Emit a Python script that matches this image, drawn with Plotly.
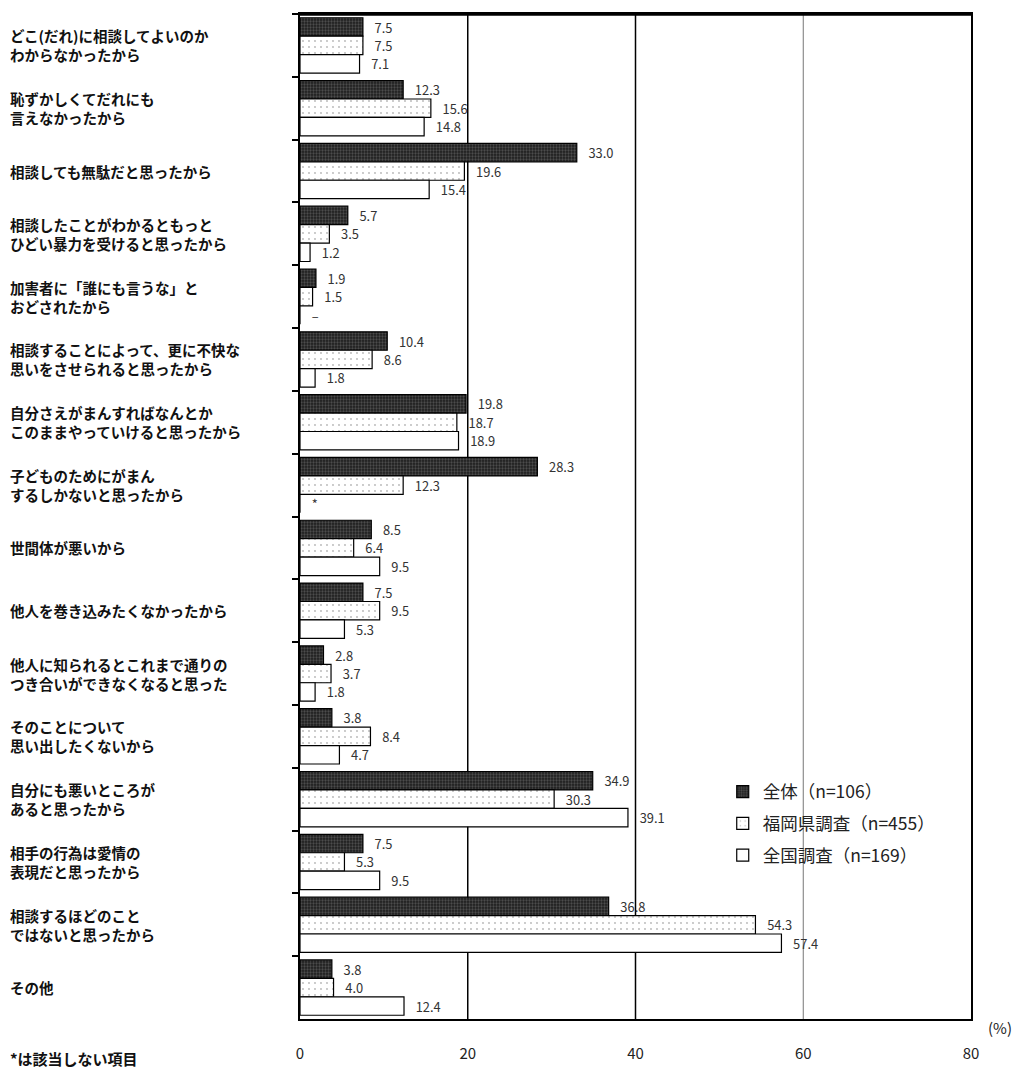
import plotly.graph_objects as go

# Reasons for not seeking help (%), three surveys
categories = [
    "どこ(だれ)に相談してよいのか<br>わからなかったから",
    "恥ずかしくてだれにも<br>言えなかったから",
    "相談しても無駄だと思ったから",
    "相談したことがわかるともっと<br>ひどい暴力を受けると思ったから",
    "加害者に「誰にも言うな」と<br>おどされたから",
    "相談することによって、更に不快な<br>思いをさせられると思ったから",
    "自分さえがまんすればなんとか<br>このままやっていけると思ったから",
    "子どものためにがまん<br>するしかないと思ったから",
    "世間体が悪いから",
    "他人を巻き込みたくなかったから",
    "他人に知られるとこれまで通りの<br>つき合いができなくなると思った",
    "そのことについて<br>思い出したくないから",
    "自分にも悪いところが<br>あると思ったから",
    "相手の行為は愛情の<br>表現だと思ったから",
    "相談するほどのこと<br>ではないと思ったから",
    "その他",
]

series_names = ["全体（n=106）", "福岡県調査（n=455）", "全国調査（n=169）"]

zentai = [7.5, 12.3, 33.0, 5.7, 1.9, 10.4, 19.8, 28.3, 8.5, 7.5, 2.8, 3.8, 34.9, 7.5, 36.8, 3.8]
fukuoka = [7.5, 15.6, 19.6, 3.5, 1.5, 8.6, 18.7, 12.3, 6.4, 9.5, 3.7, 8.4, 30.3, 5.3, 54.3, 4.0]
zenkoku = [7.1, 14.8, 15.4, 1.2, None, 1.8, 18.9, None, 9.5, 5.3, 1.8, 4.7, 39.1, 9.5, 57.4, 12.4]

# markers shown where the national survey has no value
missing_marks = {4: "–", 7: "*"}

x_ticks = [0, 20, 40, 60, 80]

FONT = "Noto Sans CJK JP, sans-serif"


def labels(values, marks=None):
    out = []
    for i, v in enumerate(values):
        if v is None:
            out.append("   " + (marks or {}).get(i, ""))
        else:
            out.append(f"   {v:.1f}")
    return out


styles = [
    dict(bgcolor="#1e1e1e", fgcolor="#7a7a7a", shape=".", size=3, solidity=0.45),
    dict(bgcolor="#ffffff", fgcolor="#6a6a6a", shape=".", size=6, solidity=0.07),
    None,
]

fig = go.Figure()
for name, vals, sty in zip(series_names, [zentai, fukuoka, zenkoku], styles):
    marker = dict(color="white", line=dict(color="black", width=1.2))
    if sty is not None:
        marker["pattern"] = sty
        if sty["bgcolor"] != "#ffffff":
            marker["color"] = sty["bgcolor"]
    fig.add_trace(go.Bar(
        y=categories,
        x=[0 if v is None else v for v in vals],
        orientation="h",
        name=name,
        legendgroup=name,
        marker=marker,
        text=labels(vals, missing_marks if vals is zenkoku else None),
        textposition="outside",
        cliponaxis=False,
        textfont=dict(family=FONT, size=14, color="#333"),
    ))

# vertical reference lines
for xv, col, w in [(20, "black", 1.5), (40, "black", 1.5), (60, "#777777", 1)]:
    fig.add_shape(type="line", xref="x", yref="paper", x0=xv, x1=xv, y0=0, y1=1,
                  line=dict(color=col, width=w), layer="below")

# category labels, left-aligned
for cat in categories:
    fig.add_annotation(
        xref="paper", yref="y", x=-0.435, y=cat, text=cat, showarrow=False,
        xanchor="left", align="left",
        font=dict(family=FONT, size=14.5, color="#111", weight="bold"),
    )

fig.add_annotation(xref="paper", yref="paper", x=1.022, y=0.004, text="(%)",
                   showarrow=False, xanchor="left", yanchor="top",
                   font=dict(family=FONT, size=15, color="#222"))
fig.add_annotation(xref="paper", yref="paper", x=-0.435, y=-0.027, text="*は該当しない項目",
                   showarrow=False, xanchor="left", yanchor="top",
                   font=dict(family=FONT, size=15, color="#111", weight="bold"))

fig.update_layout(
    width=1022, height=1075,
    margin=dict(l=300, r=51, t=12, b=51),
    paper_bgcolor="white", plot_bgcolor="white",
    barmode="group", bargap=0.12, bargroupgap=0,
    showlegend=True,
    legend=dict(x=0.63, y=0.244, xanchor="left", yanchor="top",
                bgcolor="rgba(0,0,0,0)", tracegroupgap=6, itemwidth=30,
                font=dict(family=FONT, size=17.5, color="#222")),
    xaxis=dict(range=[0, 80], tickvals=x_ticks, showgrid=False, zeroline=False,
               showline=True, linecolor="black", linewidth=2, mirror=True,
               ticks="", ticklabelstandoff=20,
               tickfont=dict(family=FONT, size=15, color="#222")),
    yaxis=dict(autorange="reversed", showticklabels=False, showgrid=False,
               showline=True, linecolor="black", linewidth=2, mirror=True,
               ticks="outside", tickson="boundaries", ticklen=6, tickwidth=2,
               tickcolor="black"),
)
# heavier top border
fig.add_shape(type="line", xref="paper", yref="paper", x0=0, x1=1, y0=1, y1=1,
              line=dict(color="black", width=3.5))

fig.write_html("out.html")
